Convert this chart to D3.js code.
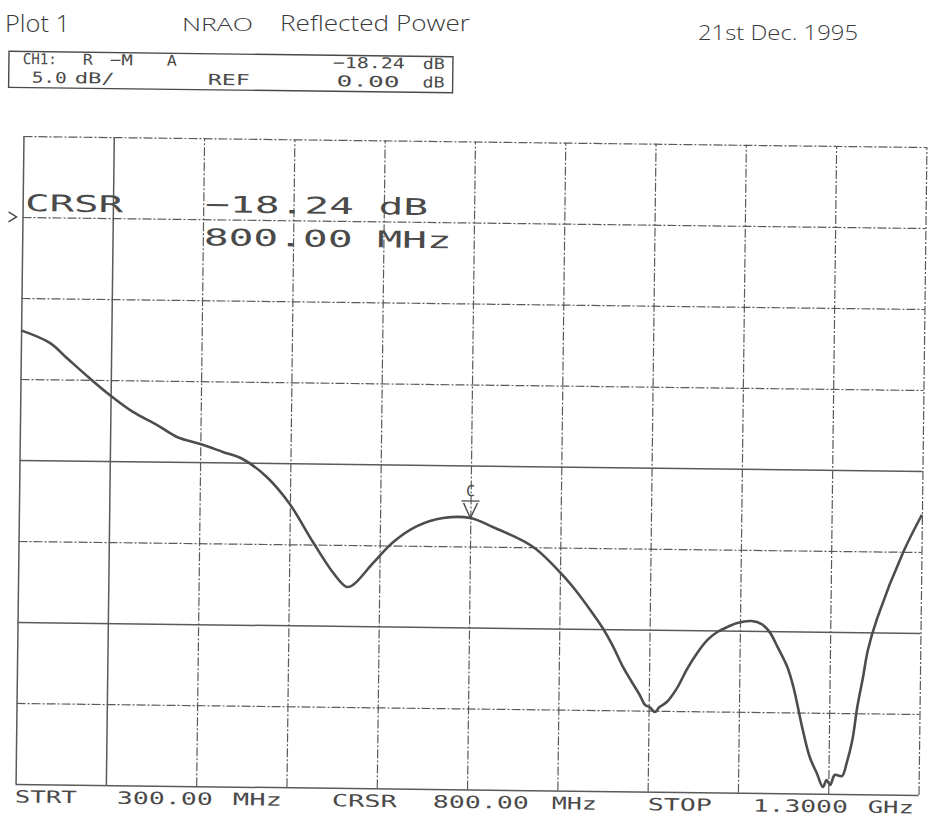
<!DOCTYPE html>
<html>
<head>
<meta charset="utf-8">
<script src="https://cdn.jsdelivr.net/npm/d3@7"></script>
<style>
  body { margin: 0; background: #fff; }
  svg { display: block; }
  .plotter { font-family: "DejaVu Sans Mono", monospace; fill: #4a4a4a; }
  .hand { font-family: "Open Sans", "DejaVu Sans", sans-serif; font-weight: 300; fill: #3a3a3a; }
</style>
</head>
<body>
<div id="vis"></div>
<script>
// frame
const FRAME_WIDTH = 934;
const FRAME_HEIGHT = 817;
const GRID = {left: 19.5, right: 922.5, top: 141.5, bottom: 789.5};
const TILT = 0.7; // the scan is slightly rotated

// sweep data (MHz, dB)
const freqMHz = [300, 332, 351, 375, 399, 425, 452, 474, 500, 525, 547, 574, 599, 626, 649,
  664, 671, 693, 715, 741, 770, 800, 825, 870, 908, 919, 934, 948, 959, 971, 981, 990, 996,
  1001, 1007, 1012, 1020, 1031, 1042, 1053, 1064, 1075, 1086, 1097, 1113, 1124, 1133,
  1142, 1153, 1160, 1171, 1179, 1187, 1194, 1198, 1202, 1207, 1215, 1220, 1226, 1231, 1237,
  1242, 1252, 1280, 1300];
const reflDb = [-7.0, -7.75, -8.67, -9.83, -10.92, -11.95, -12.74, -13.46, -13.88, -14.35,
  -14.77, -15.86, -17.45, -19.84, -21.74, -22.59, -22.46, -21.09, -19.78, -18.78, -18.26,
  -18.24, -18.78, -19.98, -22.0, -22.73, -23.83, -24.93, -25.98, -27.32, -28.24, -29.04,
  -29.65, -29.77, -30.08, -29.77, -29.45, -28.6, -27.4, -26.4, -25.6, -25.09,
  -24.78, -24.52, -24.39, -24.57, -25.06, -25.98, -27.2, -28.43, -31.08, -32.74, -33.72,
  -34.58, -34.15, -34.45, -33.83, -33.89, -33.08, -31.66, -29.62, -27.76, -26.09, -24.1,
  -20.0, -17.7];

// grid divisions: 100 MHz/div, 5 dB/div, REF 0 dB on 2nd line
const freqTicks = [300, 400, 500, 600, 700, 800, 900, 1000, 1100, 1200, 1300];
const dbTicks = [5, 0, -5, -10, -15, -20, -25, -30, -35];
const solidFreq = [300, 400];
const solidDb = [-15, -25, -35];

const cursorMHz = 800;
const cursorDb = -18.24;

const svg = d3.select("#vis").append("svg")
  .attr("width", FRAME_WIDTH)
  .attr("height", FRAME_HEIGHT);

const X_SCALE = d3.scaleLinear().domain([300, 1300]).range([GRID.left, GRID.right]);
const Y_SCALE = d3.scaleLinear().domain([-35, 5]).range([GRID.bottom, GRID.top]);

const cx = (GRID.left + GRID.right) / 2;
const cy = (GRID.top + GRID.bottom) / 2;
const G = svg.append("g").attr("transform", `rotate(${TILT},${cx},${cy})`);

// grid lines via axes
G.append("g")
  .attr("transform", `translate(0,${GRID.bottom})`)
  .call(d3.axisBottom(X_SCALE).tickValues(freqTicks).tickFormat("")
    .tickSize(-(GRID.bottom - GRID.top)).tickSizeOuter(0))
  .call(g => g.select(".domain").remove())
  .call(g => g.selectAll(".tick line")
    .attr("stroke", "#5a5a5a")
    .attr("stroke-width", d => solidFreq.includes(d) ? 1.5 : 1.2)
    .attr("stroke-dasharray", d => solidFreq.includes(d) ? null : "9 2 2 2"));

G.append("g")
  .attr("transform", `translate(${GRID.left},0)`)
  .call(d3.axisLeft(Y_SCALE).tickValues(dbTicks).tickFormat("")
    .tickSize(-(GRID.right - GRID.left)).tickSizeOuter(0))
  .call(g => g.select(".domain").remove())
  .call(g => g.selectAll(".tick line")
    .attr("stroke", "#5a5a5a")
    .attr("stroke-width", d => solidDb.includes(d) ? 1.5 : 1.2)
    .attr("stroke-dasharray", d => solidDb.includes(d) ? null : "9 2 2 2"));

// reference marker
const yRef = Y_SCALE(0);
G.append("path")
  .attr("d", `M${GRID.left - 14},${yRef - 5} L${GRID.left - 6},${yRef} L${GRID.left - 14},${yRef + 5}`)
  .attr("fill", "none").attr("stroke", "#4a4a4a").attr("stroke-width", 1.5);

// trace
const trace = d3.line()
  .x(i => X_SCALE(freqMHz[i]))
  .y(i => Y_SCALE(reflDb[i]))
  .curve(d3.curveCatmullRom.alpha(0.5));

G.append("path")
  .attr("d", trace(d3.range(freqMHz.length)))
  .attr("fill", "none")
  .attr("stroke", "#4d4d4d")
  .attr("stroke-width", 2.6)
  .attr("stroke-linejoin", "round");

// cursor marker
const mx = X_SCALE(cursorMHz), my = Y_SCALE(cursorDb);
G.append("path")
  .attr("d", `M${mx - 9},${my - 17} L${mx + 9},${my - 17} M${mx - 7},${my - 15} L${mx},${my} L${mx + 7},${my - 15}`)
  .attr("fill", "none").attr("stroke", "#4a4a4a").attr("stroke-width", 1.4);
G.append("text").attr("class", "plotter")
  .attr("x", mx).attr("y", my - 22)
  .attr("text-anchor", "middle").attr("font-size", 15)
  .text("C");

// plotter text
function plotText(txt, x, y, size, len) {
  G.append("text").attr("class", "plotter")
    .attr("x", x).attr("y", y)
    .attr("font-size", size)
    .attr("textLength", len)
    .attr("lengthAdjust", "spacingAndGlyphs")
    .text(txt);
}

// header box
G.append("rect")
  .attr("x", 4).attr("y", 57).attr("width", 444).attr("height", 36)
  .attr("fill", "none").attr("stroke", "#4a4a4a").attr("stroke-width", 1.4);

plotText("CH1:", 18, 69.5, 15, 34);
plotText("R", 78, 69.5, 15, 10);
plotText("\u2212M", 105, 69.5, 15, 23);
plotText("A", 162, 69.5, 15, 10);
plotText("\u221218.24", 328, 69.5, 15, 72);
plotText("dB", 418, 69.5, 15, 22);
plotText("5.0", 27, 88, 15, 35);
plotText("dB/", 70, 88, 15, 40);
plotText("REF", 203, 88, 15, 42);
plotText("0.00", 332, 88, 15, 63);
plotText("dB", 418, 88, 15, 22);

// cursor readout
plotText("CRSR", 22, 216.5, 23, 98);
plotText("\u221218.24 dB", 202, 215.5, 23, 223);
plotText("800.00 MHz", 201, 248.5, 23, 248);

// sweep labels
const yBot = GRID.bottom + 18.5;
plotText("STRT", 19, yBot, 17, 62);
plotText("300.00", 121, yBot, 17, 96);
plotText("MHz", 237, yBot, 17, 49);
plotText("CRSR", 336, yBot, 17, 65);
plotText("800.00", 437, yBot, 17, 96);
plotText("MHz", 556, yBot, 17, 45);
plotText("STOP", 652, yBot, 17, 64);
plotText("1.3000", 757, yBot, 17, 95);
plotText("GHz", 872, yBot, 17, 46);

// handwritten notes
svg.append("text").attr("class", "hand")
  .attr("x", 5).attr("y", 32).attr("font-size", 24)
  .attr("textLength", 65).attr("lengthAdjust", "spacingAndGlyphs")
  .text("Plot 1");
svg.append("text").attr("class", "hand")
  .attr("x", 182).attr("y", 31).attr("font-size", 19)
  .attr("textLength", 71).attr("lengthAdjust", "spacingAndGlyphs")
  .text("NRAO");
svg.append("text").attr("class", "hand")
  .attr("x", 280).attr("y", 31).attr("font-size", 22)
  .attr("textLength", 190).attr("lengthAdjust", "spacingAndGlyphs")
  .text("Reflected Power");
svg.append("text").attr("class", "hand")
  .attr("x", 698).attr("y", 40).attr("font-size", 20)
  .attr("textLength", 160).attr("lengthAdjust", "spacingAndGlyphs")
  .text("21st Dec. 1995");
</script>
</body>
</html>
